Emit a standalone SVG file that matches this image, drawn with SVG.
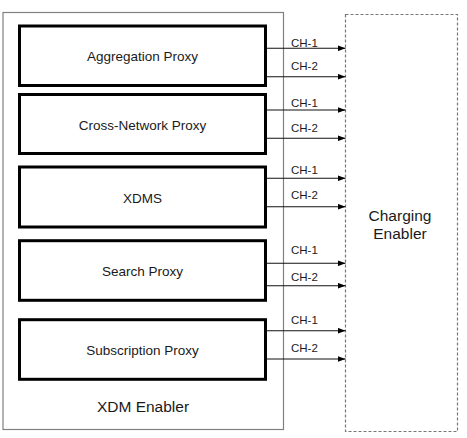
<svg xmlns="http://www.w3.org/2000/svg" width="467" height="438" viewBox="0 0 467 438">
<style>
text{font-family:"Liberation Sans",Arial,sans-serif;fill:#1a1a1a}
.box{fill:#fff;stroke:#000;stroke-width:3}
.lbl{font-size:13.5px;text-anchor:middle}
.ch{font-size:11.5px}
.arr{stroke:#111;stroke-width:1.1;fill:none;marker-end:url(#ah)}
</style>
<defs>
<marker id="ah" viewBox="0 0 8 6" refX="8" refY="3" markerWidth="8" markerHeight="6" markerUnits="userSpaceOnUse" orient="auto">
<path d="M0,0 L8,3 L0,6 Z" fill="#000"/>
</marker>
</defs>
<rect width="467" height="438" fill="#fff"/>
<g id="xdm-enabler">
<rect x="3" y="12.5" width="280.5" height="417" fill="#fff" stroke="#808080" stroke-width="1.2"/>
<text x="143" y="412" style="font-size:15.5px;text-anchor:middle">XDM Enabler</text>
</g>
<g id="charging-enabler">
<rect x="345.5" y="14.5" width="112" height="417" fill="#fff" stroke="#777" stroke-width="1.2" stroke-dasharray="3,2"/>
<text x="400" y="220.5" style="font-size:15.5px;text-anchor:middle">Charging</text>
<text x="400" y="239" style="font-size:15.5px;text-anchor:middle">Enabler</text>
</g>
<g id="aggregation-proxy">
<rect class="box" x="19.5" y="26" width="246" height="59.5"/>
<text class="lbl" x="142.5" y="61">Aggregation Proxy</text>
</g>
<g id="cross-network-proxy">
<rect class="box" x="19.5" y="94.5" width="246" height="59"/>
<text class="lbl" x="142.5" y="129.5">Cross-Network Proxy</text>
</g>
<g id="xdms">
<rect class="box" x="19.5" y="167" width="246" height="60"/>
<text class="lbl" x="142.5" y="202.5">XDMS</text>
</g>
<g id="search-proxy">
<rect class="box" x="19.5" y="240.7" width="246" height="59.6"/>
<text class="lbl" x="142.5" y="276">Search Proxy</text>
</g>
<g id="subscription-proxy">
<rect class="box" x="19.5" y="319.7" width="246" height="59.6"/>
<text class="lbl" x="142.5" y="355">Subscription Proxy</text>
</g>
<g id="connectors">
<line class="arr" x1="267" y1="48.3" x2="345.5" y2="48.3"/>
<line class="arr" x1="267" y1="76.7" x2="345.5" y2="76.7"/>
<line class="arr" x1="267" y1="110" x2="345.5" y2="110"/>
<line class="arr" x1="267" y1="138.3" x2="345.5" y2="138.3"/>
<line class="arr" x1="267" y1="178.3" x2="345.5" y2="178.3"/>
<line class="arr" x1="267" y1="206.7" x2="345.5" y2="206.7"/>
<line class="arr" x1="267" y1="263.3" x2="345.5" y2="263.3"/>
<line class="arr" x1="267" y1="285.7" x2="345.5" y2="285.7"/>
<line class="arr" x1="267" y1="330.7" x2="345.5" y2="330.7"/>
<line class="arr" x1="267" y1="359" x2="345.5" y2="359"/>
<text class="ch" x="291" y="47.3">CH-1</text>
<text class="ch" x="291" y="70">CH-2</text>
<text class="ch" x="291" y="106.7">CH-1</text>
<text class="ch" x="291" y="131.7">CH-2</text>
<text class="ch" x="291" y="174">CH-1</text>
<text class="ch" x="291" y="199.3">CH-2</text>
<text class="ch" x="291" y="254">CH-1</text>
<text class="ch" x="291" y="280.7">CH-2</text>
<text class="ch" x="291" y="323.7">CH-1</text>
<text class="ch" x="291" y="352">CH-2</text>
</g>
</svg>
